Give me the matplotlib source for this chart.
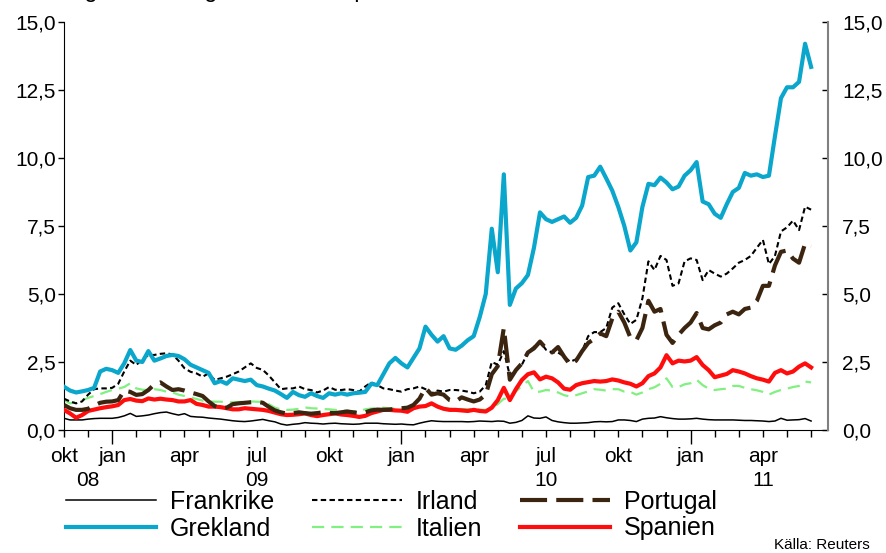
import numpy as np
import matplotlib
matplotlib.use("Agg")
import matplotlib.pyplot as plt
from matplotlib.transforms import blended_transform_factory

plt.rcParams['font.family'] = ['Liberation Sans', 'DejaVu Sans']

# x grid: months from axis start (okt 08), quarter-month steps
months = np.arange(0, 31.01, 0.25)

grekland = [1.59, 1.45, 1.38, 1.42, 1.47, 1.55, 2.15, 2.25, 2.20, 2.10, 2.45, 2.94, 2.55, 2.50, 2.90, 2.55,
            2.63, 2.72, 2.76, 2.72, 2.60, 2.40, 2.30, 2.20, 2.10, 1.72, 1.80, 1.70, 1.90, 1.85, 1.80, 1.85,
            1.65, 1.60, 1.52, 1.45, 1.32, 1.18, 1.40, 1.28, 1.22, 1.35, 1.25, 1.18, 1.35, 1.30, 1.35, 1.30,
            1.35, 1.37, 1.40, 1.70, 1.65, 2.05, 2.45, 2.65, 2.45, 2.30, 2.65, 3.00, 3.80, 3.50, 3.25, 3.45,
            3.00, 2.95, 3.10, 3.30, 3.45, 4.15, 5.00, 7.40, 5.80, 9.40, 4.60, 5.20, 5.40, 5.70, 6.70, 8.00,
            7.75, 7.65, 7.75, 7.85, 7.62, 7.80, 8.25, 9.30, 9.35, 9.68, 9.25, 8.80, 8.20, 7.50, 6.60, 6.90,
            8.20, 9.05, 9.00, 9.28, 9.10, 8.85, 8.95, 9.35, 9.55, 9.85, 8.40, 8.30, 7.95, 7.80, 8.30, 8.75,
            8.90, 9.45, 9.35, 9.40, 9.30, 9.35, 10.8, 12.2, 12.6, 12.6, 12.8, 14.2, 13.35]

irland = [1.15, 1.05, 0.98, 1.05, 1.30, 1.50, 1.53, 1.53, 1.55, 1.70, 2.15, 2.55, 2.39, 2.60, 2.75, 2.76,
          2.80, 2.82, 2.78, 2.55, 2.27, 2.14, 2.08, 1.96, 2.08, 1.84, 1.90, 1.96, 2.05, 2.15, 2.30, 2.45,
          2.28, 2.21, 2.00, 1.75, 1.50, 1.53, 1.53, 1.60, 1.50, 1.47, 1.38, 1.45, 1.58, 1.48, 1.47, 1.50,
          1.47, 1.41, 1.60, 1.75, 1.65, 1.53, 1.50, 1.45, 1.41, 1.50, 1.53, 1.60, 1.50, 1.35, 1.45, 1.41,
          1.47, 1.47, 1.45, 1.41, 1.35, 1.41, 1.65, 2.50, 2.40, 2.90, 2.00, 2.20, 2.40, 2.85, 3.06, 3.25,
          2.95, 2.85, 2.85, 2.70, 2.51, 2.60, 2.90, 3.45, 3.60, 3.60, 3.75, 4.50, 4.66, 4.25, 3.90, 4.05,
          4.84, 6.20, 5.88, 6.40, 6.25, 5.30, 5.39, 6.20, 6.31, 6.25, 5.51, 5.88, 5.75, 5.64, 5.75, 5.94,
          6.15, 6.25, 6.40, 6.70, 6.99, 6.10, 6.40, 7.30, 7.45, 7.70, 7.35, 8.21, 8.10]

portugal = [0.92, 0.80, 0.74, 0.74, 0.78, 0.90, 1.00, 1.04, 1.05, 1.10, 1.45, 1.40, 1.29, 1.32, 1.47, 1.68,
            1.75, 1.60, 1.47, 1.50, 1.45, 1.38, 1.32, 1.25, 1.05, 0.88, 0.80, 0.82, 0.95, 0.98, 1.00, 1.02,
            1.04, 1.00, 0.85, 0.72, 0.65, 0.60, 0.62, 0.65, 0.62, 0.60, 0.62, 0.65, 0.63, 0.62, 0.65, 0.68,
            0.65, 0.62, 0.65, 0.72, 0.75, 0.74, 0.75, 0.78, 0.80, 0.82, 0.92, 1.15, 1.55, 1.30, 1.35, 1.30,
            1.10, 1.05, 1.20, 1.12, 1.05, 1.12, 1.30, 2.05, 2.35, 3.75, 1.85, 2.20, 2.45, 2.85, 3.00, 3.25,
            3.00, 2.85, 3.05, 2.70, 2.40, 2.55, 2.90, 3.20, 3.35, 3.55, 3.45, 4.10, 4.35, 3.95, 3.40, 3.30,
            3.75, 4.75, 4.35, 4.45, 3.50, 3.20, 3.50, 3.75, 3.95, 4.30, 3.75, 3.70, 3.85, 3.95, 4.25, 4.35,
            4.25, 4.45, 4.50, 4.75, 5.30, 5.30, 6.05, 6.55, 6.60, 6.30, 6.15, 6.85, 6.75]

spanien = [0.74, 0.61, 0.45, 0.55, 0.70, 0.75, 0.80, 0.84, 0.87, 0.92, 1.10, 1.14, 1.08, 1.06, 1.16, 1.12,
           1.15, 1.12, 1.10, 1.05, 1.05, 1.10, 0.96, 0.92, 0.86, 0.86, 0.84, 0.80, 0.76, 0.76, 0.80, 0.78,
           0.76, 0.74, 0.70, 0.64, 0.58, 0.55, 0.56, 0.58, 0.61, 0.55, 0.51, 0.55, 0.58, 0.61, 0.57, 0.55,
           0.52, 0.48, 0.52, 0.62, 0.68, 0.74, 0.74, 0.72, 0.71, 0.67, 0.80, 0.86, 0.88, 0.98, 0.86, 0.78,
           0.74, 0.74, 0.72, 0.70, 0.74, 0.70, 0.68, 0.82, 1.10, 1.55, 1.10, 1.50, 1.84, 2.05, 2.12, 1.86,
           1.96, 1.90, 1.75, 1.52, 1.48, 1.65, 1.72, 1.76, 1.80, 1.78, 1.80, 1.86, 1.82, 1.75, 1.70, 1.60,
           1.72, 1.98, 2.08, 2.30, 2.75, 2.45, 2.55, 2.52, 2.55, 2.68, 2.39, 2.20, 1.94, 2.00, 2.06, 2.20,
           2.15, 2.08, 1.98, 1.90, 1.85, 1.78, 2.10, 2.20, 2.08, 2.15, 2.33, 2.45, 2.30]

italien = [1.10, 0.98, 1.02, 1.10, 1.18, 1.25, 1.32, 1.40, 1.47, 1.52, 1.58, 1.72, 1.53, 1.48, 1.47, 1.50,
           1.47, 1.41, 1.38, 1.30, 1.25, 1.20, 1.14, 1.08, 1.05, 1.04, 1.04, 1.02, 1.02, 1.03, 1.04, 1.05,
           1.04, 1.03, 0.95, 0.82, 0.76, 0.74, 0.75, 0.78, 0.83, 0.80, 0.79, 0.77, 0.76, 0.74, 0.72, 0.71,
           0.68, 0.70, 0.76, 0.79, 0.80, 0.82, 0.80, 0.78, 0.76, 0.78, 0.82, 0.85, 0.88, 0.92, 0.85, 0.80,
           0.78, 0.78, 0.77, 0.76, 0.78, 0.75, 0.74, 0.80, 0.95, 1.15, 1.15, 1.42, 1.62, 1.80, 1.40, 1.41,
           1.47, 1.45, 1.38, 1.28, 1.23, 1.28, 1.35, 1.42, 1.50, 1.48, 1.45, 1.50, 1.50, 1.41, 1.40, 1.30,
           1.38, 1.50, 1.57, 1.70, 1.90, 1.58, 1.58, 1.68, 1.72, 1.85, 1.65, 1.52, 1.47, 1.50, 1.52, 1.62,
           1.62, 1.55, 1.50, 1.46, 1.40, 1.30, 1.40, 1.47, 1.52, 1.58, 1.62, 1.78, 1.75]

frankrike = [0.43, 0.37, 0.37, 0.37, 0.40, 0.42, 0.43, 0.43, 0.43, 0.46, 0.52, 0.61, 0.50, 0.52, 0.55, 0.60,
             0.64, 0.66, 0.60, 0.55, 0.60, 0.50, 0.48, 0.47, 0.44, 0.42, 0.40, 0.37, 0.34, 0.32, 0.31, 0.33,
             0.36, 0.39, 0.34, 0.30, 0.22, 0.18, 0.21, 0.23, 0.27, 0.25, 0.24, 0.22, 0.24, 0.25, 0.23, 0.22,
             0.21, 0.22, 0.25, 0.25, 0.25, 0.23, 0.22, 0.21, 0.22, 0.20, 0.19, 0.25, 0.30, 0.34, 0.32, 0.31,
             0.31, 0.31, 0.31, 0.30, 0.31, 0.33, 0.32, 0.31, 0.33, 0.32, 0.25, 0.28, 0.35, 0.52, 0.44, 0.43,
             0.48, 0.35, 0.30, 0.27, 0.25, 0.25, 0.26, 0.27, 0.30, 0.31, 0.30, 0.31, 0.37, 0.37, 0.35, 0.31,
             0.40, 0.43, 0.44, 0.49, 0.45, 0.42, 0.40, 0.40, 0.41, 0.43, 0.40, 0.38, 0.37, 0.37, 0.37, 0.37,
             0.36, 0.35, 0.35, 0.34, 0.33, 0.31, 0.33, 0.43, 0.36, 0.37, 0.38, 0.42, 0.33]

month_labels = ['okt', 'jan', 'apr', 'jul', 'okt', 'jan', 'apr', 'jul', 'okt', 'jan', 'apr']
month_label_pos = [0, 2, 5, 8, 11, 14, 17, 20, 23, 26, 29]
year_labels = ['08', '09', '10', '11']
year_label_pos = [1, 8, 20, 29]
year_start_pos = [2, 14, 26]
yticks = [0, 2.5, 5, 7.5, 10, 12.5, 15]

W, H = 887, 553
fig = plt.figure(figsize=(W / 100, H / 100), dpi=100)
ax = fig.add_axes([64 / W, 1 - 430 / H, (828 - 64) / W, 408 / H])

def xs(vals):
    return months[:len(vals)]

ax.plot(xs(italien), italien, color='#80F080', lw=1.6, dashes=[5.5, 3.2], label='Italien', zorder=2)
ax.plot(xs(irland), irland, color='black', lw=1.5, dashes=[2.6, 1.6], label='Irland', zorder=3)
ax.plot(xs(frankrike), frankrike, color='black', lw=1.1, label='Frankrike', zorder=3)
ax.plot(xs(spanien), spanien, color='#FF0D0D', lw=3.0, label='Spanien', zorder=4)
ax.plot(xs(portugal), portugal, color='#3C2510', lw=3.0, dashes=[6.5, 2.2], label='Portugal', zorder=5)
ax.plot(xs(grekland), grekland, color='#0AA6CC', lw=3.0, label='Grekland', zorder=6)

ax.set_xlim(0, (828 - 64) / 24.1)
ax.set_ylim(0, 15)
ax.set_yticks(yticks)
ax.set_yticklabels([f"{v:.1f}".replace('.', ',') for v in yticks], fontsize=15)
ax.tick_params(axis='y', direction='out', length=4, width=1, pad=2)

ax.set_xticks(year_start_pos)
ax.set_xticks(np.arange(0, 32, 1), minor=True)
ax.set_xticklabels([])
ax.tick_params(axis='x', which='major', direction='out', length=10, width=1)
ax.tick_params(axis='x', which='minor', direction='out', length=5, width=1)

ax.spines['top'].set_visible(False)
ax.spines['right'].set_visible(False)
ax.spines['left'].set_color('black')
ax.spines['bottom'].set_color('black')

ax2 = ax.twinx()
ax2.set_ylim(0, 15)
ax2.set_yticks(yticks)
ax2.set_yticklabels([f"{v:.1f}".replace('.', ',') for v in yticks], fontsize=15)
ax2.tick_params(axis='y', direction='in', length=4, width=1, pad=10, colors='black')
ax2.spines['right'].set_color('#808080')
ax2.spines['right'].set_linewidth(1.5)
for s in ['top', 'left', 'bottom']:
    ax2.spines[s].set_visible(False)

trans = blended_transform_factory(ax.transData, ax.transAxes)
for lbl, p in zip(month_labels, month_label_pos):
    ax.text(p, -27 / 408, lbl, transform=trans, ha='center', va='center', fontsize=15)
for lbl, p in zip(year_labels, year_label_pos):
    ax.text(p, -50 / 408, lbl, transform=trans, ha='center', va='center', fontsize=15)

handles, labels = ax.get_legend_handles_labels()
order = ['Frankrike', 'Grekland', 'Irland', 'Italien', 'Portugal', 'Spanien']
hmap = dict(zip(labels, handles))
fig.legend([hmap[k] for k in order], order, ncol=3, loc='upper left',
           bbox_to_anchor=(66 / W, 1 - 490 / H), frameon=False, fontsize=18,
           handlelength=3.6, handletextpad=0.56, columnspacing=1.5, labelspacing=0.1,
           borderpad=0, borderaxespad=0)

fig.text(870 / W, 1 - 545 / H, 'Källa: Reuters', ha='right', va='center', fontsize=11)
fig.text(45 / W, 1 + 3 / H, 'Långa statsobligationsräntor, procentenheter', ha='left',
         va='baseline', fontsize=17)

fig.savefig('out.png', dpi=100)
